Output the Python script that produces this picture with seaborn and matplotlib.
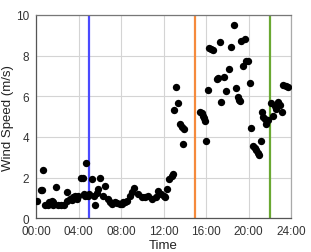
import matplotlib
matplotlib.use("Agg")
import matplotlib.pyplot as plt
from matplotlib.ticker import MultipleLocator, FuncFormatter
import seaborn as sns
import pandas as pd

# time of day in hours, wind speed in m/s
hours = [
    0.10, 0.45, 0.58, 0.69, 0.85, 1.16, 1.25, 1.47, 1.57, 1.63, 1.88, 2.05, 2.35, 2.60,
    2.88, 2.94, 3.20, 3.41, 3.50, 3.67, 3.83, 3.98, 4.20, 4.38, 4.50, 4.60, 4.70, 4.90,
    5.00, 5.23, 5.45, 5.55, 5.77, 5.86, 6.02, 6.30, 6.48, 6.80, 6.95, 7.15, 7.42, 7.65,
    7.90, 8.05, 8.20, 8.35, 8.52, 8.83, 8.99, 9.24, 9.62, 9.93, 10.24, 10.55, 10.93,
    11.25, 11.50, 11.80, 12.00, 12.12, 12.34, 12.53, 12.75, 12.85,
    12.97, 13.16, 13.32, 13.50, 13.72, 13.85, 13.95,
    15.41, 15.57, 15.70, 15.82, 15.90, 15.98, 16.14, 16.29, 16.50, 16.62, 16.98, 17.14,
    17.29, 17.45, 17.67, 17.83, 18.14, 18.30, 18.64, 18.80, 18.96, 19.10, 19.20, 19.33,
    19.48, 19.64, 19.80, 19.95, 20.11, 20.27, 20.42, 20.58, 20.74, 20.90, 20.99, 21.15,
    21.28, 21.40, 21.53, 21.62, 21.78, 22.15, 22.30, 22.46, 22.62, 22.77, 22.93, 23.15,
    23.25, 23.50, 23.72,
]
speed = [
    0.87, 1.40, 1.40, 2.39, 0.66, 0.66, 0.79, 0.87, 0.79, 0.66, 1.53, 0.66, 0.66, 0.66,
    1.31, 0.87, 0.95, 0.90, 1.03, 1.11, 0.95, 1.11, 1.97, 1.97, 1.20, 1.10, 2.71, 1.11,
    1.20, 1.94, 1.08, 0.66, 1.25, 1.44, 2.00, 1.11, 1.60, 0.95, 0.79, 0.72, 0.79, 0.75,
    0.70, 0.72, 0.79, 0.80, 0.87, 1.11, 1.28, 1.48, 1.20, 1.03, 1.03, 1.11, 0.95,
    1.03, 1.36, 1.20, 1.10, 1.03, 1.44, 1.94, 2.10, 2.18,
    5.33, 6.48, 5.68, 4.62, 4.50, 3.66, 4.40,
    5.24, 5.18, 5.05, 4.92, 4.80, 3.82, 6.32, 8.37, 8.32, 8.29, 6.85, 6.90,
    8.67, 5.71, 6.95, 6.24, 7.32, 8.42, 9.52, 6.42, 5.96, 5.84, 5.79, 8.70,
    7.47, 8.80, 7.76, 7.73, 6.66, 4.43, 3.58, 3.47, 3.35, 3.22, 3.10, 3.82,
    5.24, 5.00, 4.90, 4.64, 4.84, 5.67, 5.02, 5.54, 5.38, 5.74, 5.58, 5.22,
    6.57, 6.50, 6.45,
]
event_hours = [5, 15, 22]
event_colors = ["#4a4aff", "#f58a3c", "#6aa832"]

df = pd.DataFrame({"hour": hours, "speed": speed})

sns.set_style("white")
plt.rcParams["font.family"] = ["Liberation Sans", "DejaVu Sans"]

fig = plt.figure(figsize=(3.11, 2.53), dpi=100)
ax = fig.add_axes([0.116, 0.133, 0.820, 0.804])

ax.grid(True, which="major", color="#d4d4d4", lw=0.8)
ax.set_axisbelow(True)

for h, c in zip(event_hours, event_colors):
    ax.axvline(h, color=c, lw=1.6, zorder=2)

sns.scatterplot(data=df, x="hour", y="speed", color="black", s=28,
                edgecolor="black", linewidth=0, ax=ax, zorder=3)

ax.set_xlim(0, 24)
ax.set_ylim(0, 10)
ax.xaxis.set_major_locator(MultipleLocator(4))
ax.xaxis.set_minor_locator(MultipleLocator(2))
ax.yaxis.set_major_locator(MultipleLocator(2))
ax.yaxis.set_minor_locator(MultipleLocator(1))
ax.xaxis.set_major_formatter(FuncFormatter(lambda v, p: f"{int(v):02d}:00"))

ax.tick_params(which="both", direction="out", colors="#555555", labelcolor="#333333",
               labelsize=8.5, length=3, width=0.8, pad=2)
ax.tick_params(which="minor", length=2)

for side in ["left", "bottom"]:
    ax.spines[side].set_color("#555555")
ax.spines["top"].set_color("#777777")
ax.spines["right"].set_color("#aaaaaa")
for s in ax.spines.values():
    s.set_linewidth(0.9)

ax.set_xlabel("Time", fontsize=9.5, color="#222222", labelpad=1)
ax.set_ylabel("Wind Speed (m/s)", fontsize=9.5, color="#222222", labelpad=1)

fig.savefig("out.png", dpi=100)
